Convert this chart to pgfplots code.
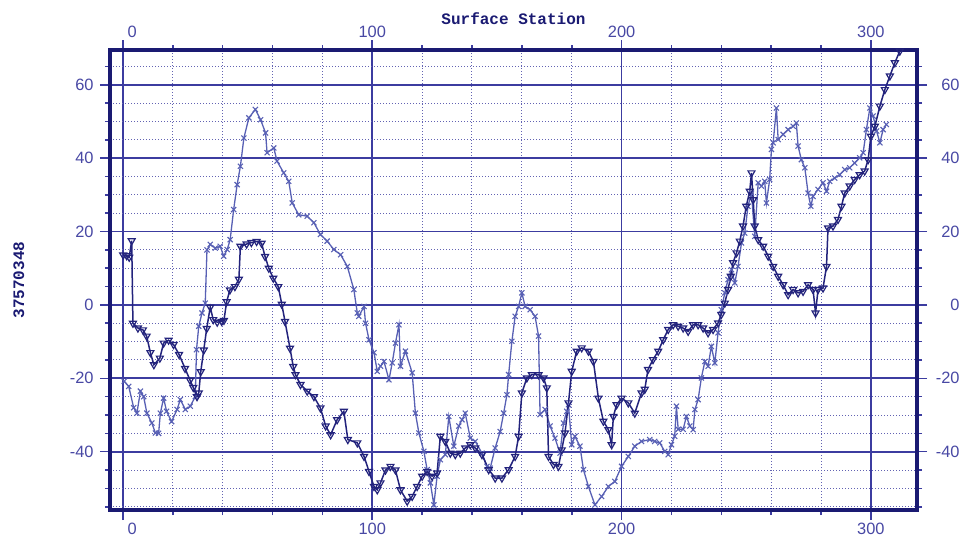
\documentclass[border=0pt]{standalone}
\usepackage{fontspec}
\setmainfont{Liberation Sans}
\newfontfamily\mono{Liberation Mono}
\usepackage{pgfplots}
\usepackage{pgfplotstable}
\pgfplotsset{compat=1.18}

\definecolor{navy}{HTML}{1A1A72}
\definecolor{gridblue}{HTML}{3C3CA0}
\definecolor{txtblue}{HTML}{4848A4}
\definecolor{serA}{HTML}{23237C}
\definecolor{serB}{HTML}{5860B4}

% series with down-triangle marks
\pgfplotstableread{
x y
0.1 13.6
1.5 13.4
2.5 13.0
3.5 17.5
4.0 -5.0
6.0 -6.3
8.0 -6.8
9.5 -8.5
11.0 -13.0
12.4 -16.3
14.8 -14.5
16.3 -10.4
18.3 -9.6
20.3 -10.8
22.5 -13.5
24.9 -17.3
26.9 -20.5
28.2 -22.5
29.7 -25.0
30.4 -24.0
31.2 -18.2
32.4 -12.3
33.6 -6.4
35.0 -0.6
36.2 -4.0
37.8 -4.7
39.6 -4.5
40.5 -4.2
41.6 0.9
42.9 4.1
44.9 5.0
46.5 7.0
47.1 16.0
49.6 16.6
51.5 17.0
53.6 17.3
55.6 16.8
57.0 13.2
58.5 10.0
60.3 7.3
62.3 5.0
63.7 0.2
65.0 -4.5
67.0 -11.8
68.3 -16.8
69.2 -19.0
71.2 -21.7
73.9 -23.5
76.6 -25.0
79.2 -28.1
81.3 -33.0
83.3 -35.4
85.9 -31.3
88.6 -29.0
90.2 -36.7
94.0 -37.6
96.7 -41.3
98.7 -45.4
100.7 -49.5
102.0 -50.4
103.3 -48.5
105.3 -45.0
107.3 -44.0
109.3 -45.0
111.3 -50.4
114.0 -53.5
116.0 -52.2
118.0 -49.5
120.0 -46.7
122.0 -45.4
124.0 -46.7
126.0 -45.8
127.3 -35.8
129.3 -37.2
131.3 -40.4
133.3 -40.8
135.3 -40.4
137.3 -39.0
139.3 -38.1
141.3 -39.0
144.0 -40.8
146.7 -44.9
149.3 -47.2
152.0 -47.2
154.7 -44.9
157.3 -41.3
158.7 -35.8
160.0 -24.0
162.0 -19.9
164.0 -19.0
166.7 -19.0
168.7 -19.9
170.0 -22.6
170.7 -41.3
172.7 -43.5
174.7 -44.0
176.0 -39.5
177.3 -34.9
178.7 -26.7
180.0 -18.1
182.0 -12.6
184.0 -11.7
186.7 -12.6
188.7 -15.4
190.7 -25.4
192.7 -31.7
194.7 -34.0
196.0 -38.1
196.7 -30.4
198.0 -27.2
200.0 -25.4
202.7 -26.7
205.3 -29.5
208.0 -24.0
209.3 -23.0
210.6 -17.6
212.6 -14.9
214.7 -12.6
216.7 -9.5
218.7 -6.7
220.7 -5.4
222.7 -5.8
224.7 -6.3
226.7 -7.2
228.7 -5.4
230.7 -5.4
232.7 -6.3
234.7 -7.6
236.7 -6.7
238.7 -4.9
240.0 -2.6
241.4 0.5
242.7 4.2
243.8 7.8
244.7 11.5
246.1 14.2
247.4 17.4
248.7 21.5
250.0 26.9
251.4 31.0
252.1 36.0
252.8 28.7
253.4 21.5
254.8 17.8
256.8 16.0
258.8 13.3
260.8 10.5
262.8 7.8
264.8 5.5
266.8 2.8
268.8 4.2
270.8 3.3
272.8 3.7
274.8 5.5
276.8 4.2
277.8 -2.2
278.8 4.2
280.8 4.6
282.2 10.5
282.8 21.0
284.8 21.5
286.8 23.3
288.2 26.9
289.5 30.5
291.5 32.4
293.5 34.2
295.5 35.5
297.5 36.5
298.9 39.6
300.0 46.0
301.6 48.7
303.6 54.2
305.6 58.7
307.6 62.4
309.6 66.0
311.6 69.2
}\seriesA

% series with x marks
\pgfplotstableread{
x y
0.5 -20.8
2.3 -22.2
4.3 -28.0
5.6 -29.5
7.0 -23.5
8.3 -25.0
9.6 -29.5
11.6 -32.2
13.0 -34.9
14.3 -35.0
15.0 -29.5
16.3 -25.4
17.5 -29.0
19.5 -31.8
21.7 -28.5
23.0 -25.8
25.0 -28.5
27.0 -27.6
29.0 -25.0
29.5 -12.2
30.4 -5.8
31.7 -2.2
33.0 0.5
33.7 15.0
35.0 16.5
37.0 15.5
39.0 16.0
40.4 13.3
41.8 15.1
43.0 17.8
44.4 26.0
45.8 32.8
47.1 37.8
48.5 45.5
50.5 51.0
53.1 53.3
55.2 50.5
57.2 46.9
57.8 41.5
60.5 42.8
61.8 39.2
64.5 36.0
66.5 33.7
67.9 27.8
70.5 24.6
73.9 24.2
76.6 22.4
79.2 19.2
81.9 17.4
84.6 15.1
87.3 13.7
90.0 10.5
92.6 4.2
94.0 -2.2
94.6 -3.1
96.7 -0.4
97.3 -5.0
98.7 -9.5
100.7 -13.0
102.0 -18.1
103.3 -16.7
104.7 -15.4
106.7 -20.4
108.0 -15.8
109.3 -10.4
110.7 -5.4
111.3 -16.7
113.3 -12.6
116.0 -18.5
117.3 -29.5
118.7 -34.9
120.7 -39.9
122.0 -44.9
123.3 -48.5
124.7 -54.5
126.0 -46.7
127.3 -42.2
129.3 -40.8
130.7 -30.4
132.7 -38.5
134.7 -33.0
136.0 -31.3
137.3 -29.5
139.3 -36.3
141.3 -37.2
144.0 -40.4
146.0 -44.0
147.3 -44.5
149.3 -39.0
151.3 -34.5
152.7 -29.5
154.0 -24.5
154.7 -19.0
156.0 -9.9
157.3 -3.1
158.7 -0.4
160.0 3.3
161.3 -0.4
163.3 -1.3
165.3 -3.1
166.7 -8.5
167.3 -29.9
169.3 -28.5
171.3 -33.0
173.3 -36.3
175.3 -40.4
176.7 -32.2
178.0 -29.0
178.7 -27.2
180.0 -38.1
181.3 -35.8
183.3 -38.5
184.7 -44.9
186.7 -49.5
189.3 -54.5
192.0 -52.2
194.7 -49.5
197.3 -48.1
200.0 -44.0
202.7 -41.3
205.3 -38.5
208.0 -37.2
211.3 -36.7
213.3 -37.2
215.3 -37.6
217.3 -39.9
218.7 -40.8
220.0 -38.1
221.3 -35.8
222.0 -27.6
222.7 -33.9
224.7 -33.9
226.0 -30.4
227.4 -33.0
228.7 -34.0
229.4 -28.5
230.7 -25.8
232.0 -19.9
233.4 -15.4
234.7 -16.7
236.0 -11.3
237.4 -15.8
238.7 -7.6
240.0 -1.3
241.4 3.3
242.7 6.9
244.1 9.6
245.4 6.0
246.7 10.5
248.1 16.9
249.4 19.6
250.7 26.9
252.1 30.5
253.4 18.7
254.8 33.3
256.1 32.4
257.4 33.7
258.1 27.8
259.4 34.2
260.1 42.4
260.8 44.2
262.1 53.7
262.8 45.1
264.8 46.5
266.8 47.8
268.8 48.7
270.1 49.6
270.8 43.3
272.1 39.6
273.5 37.4
274.8 30.5
275.9 26.9
276.8 29.6
278.8 31.5
280.8 33.3
282.2 31.0
283.5 33.7
285.5 34.6
287.5 35.5
289.5 36.9
291.5 37.4
293.5 38.7
295.5 40.1
296.9 41.5
298.2 47.8
299.6 53.7
300.9 51.5
302.3 47.4
303.6 44.2
304.9 47.8
306.2 49.2
}\seriesB

\pgfplotsset{
  stationaxis/.style={
    scale only axis,
    at={(0,0)}, anchor=south west,
    width=403.5pt, height=230pt,
    xmin=-5.2, xmax=318.5,
    ymin=-55.9, ymax=69.5,
    xtick={0,100,200,300},
    xticklabels={\mbox{\phantom{00}0},\mbox{100},\mbox{200},\mbox{300}},
    ytick={-40,-20,0,20,40,60},
    minor xtick={20,40,...,300},
    minor ytick={-55,-50,...,65},
    tick align=outside,
    major tick length=5pt,
    minor tick length=2.5pt,
    /pgf/number format/assume math mode=true,
    ticklabel style={font=\fontsize{8.2}{9}\selectfont, text=txtblue, inner sep=0pt},
  },
}

\begin{document}
\begin{tikzpicture}
  \begin{axis}[
    stationaxis,
    grid=both,
    major grid style={gridblue, line width=0.9pt},
    minor grid style={gridblue!80, line width=0.5pt, dash pattern=on 0.5pt off 1pt},
    axis line style={navy, line width=2pt},
    tick style={gridblue, line width=0.8pt},
    xticklabel pos=lower,
    yticklabel pos=left,
    xticklabel style={anchor=north, yshift=-1.5pt},
    yticklabel style={anchor=east, xshift=-3pt},
    title={\mono\bfseries Surface Station},
    title style={at={(axis description cs:0.5,1.0304)}, anchor=base,
      font=\fontsize{8}{9}\selectfont, text=navy},
    ylabel={\mono\bfseries 37570348},
    ylabel style={at={(axis description cs:-0.1128,0.5)}, anchor=center,
      font=\fontsize{8}{9}\selectfont, text=navy},
  ]
    \addplot[serB, line width=0.65pt, mark=x, mark size=1.8pt,
      mark options={line width=0.55pt}] table {\seriesB};
    \addplot[serA, line width=0.75pt, mark=triangle, mark size=2pt,
      mark options={rotate=180, line width=0.6pt}] table {\seriesA};
  \end{axis}
  \begin{axis}[
    stationaxis,
    axis line style={draw=none},
    major tick length=0pt,
    minor tick length=0pt,
    xticklabel pos=upper,
    yticklabel pos=right,
    xticklabel style={anchor=south, yshift=6pt},
    yticklabel style={anchor=east, xshift=21.5pt},
  ]
  \end{axis}
  \pgfresetboundingbox
  \useasboundingbox (-55pt,-13.5pt) rectangle (425.5pt,255pt);
\end{tikzpicture}
\end{document}
